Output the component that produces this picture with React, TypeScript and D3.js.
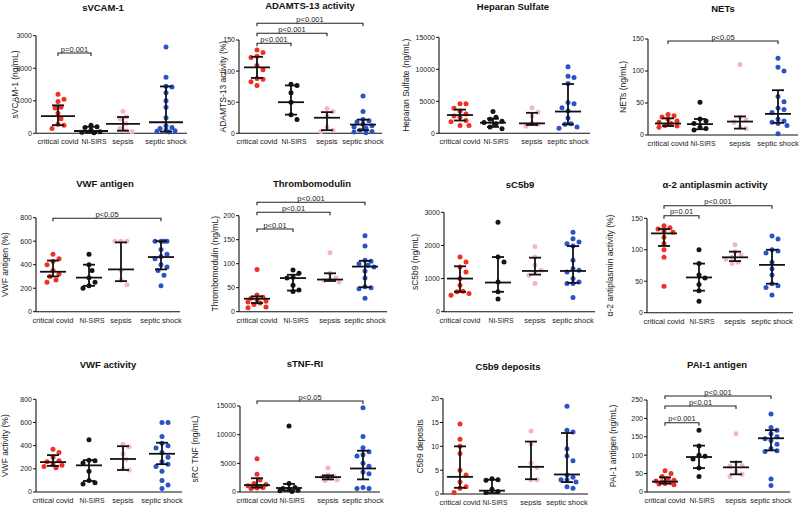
import React from "react";
import * as d3 from "d3";

const categories = ["critical covid", "NI-SIRS", "sepsis", "septic shock"];
const groupColors = ["#ee3124", "#151515", "#f4b4d0", "#2b52c6"];

// ---- values per group (critical covid, NI-SIRS, sepsis, septic shock)
// stats: [median, q1, q3]
const sVCAM1Values = [
  [1200, 1050, 980, 800, 780, 620, 450, 280, 250, 150],
  [250, 200, 180, 100, 50, 30, 20],
  [680, 500, 450, 300, 150, 80, 50],
  [2650, 1720, 1450, 1420, 1250, 1000, 800, 480, 230, 180, 150, 100, 80, 60, 40],
];
const sVCAM1Stats = [[530, 250, 860], [70, 20, 200], [290, 80, 500], [340, 50, 1440]];
const sVCAM1Ticks = [0, 1000, 2000, 3000];

const adamtsValues = [
  [134, 130, 124, 122, 109, 102, 88, 87, 83, 77],
  [79, 77, 65, 50, 30, 22],
  [40, 35, 28, 10, 5, 3],
  [60, 35, 22, 20, 18, 15, 12, 10, 8, 5, 3, 2, 1],
];
const adamtsStats = [[106, 89, 123], [50, 30, 77], [25, 5, 34], [14, 5, 22]];
const adamtsTicks = [0, 50, 100, 150];

const heparanValues = [
  [4600, 4600, 3900, 3500, 3000, 2700, 2500, 2000, 1800, 1200, 1200],
  [3400, 2500, 2200, 1900, 1700, 1500, 1000, 700],
  [4000, 3300, 2700, 1600, 1400, 1100],
  [10400, 8900, 8700, 7800, 4800, 4600, 4000, 3500, 2400, 1500, 1400, 1000, 800],
];
const heparanStats = [[2850, 2000, 3700], [1650, 1000, 2300], [1550, 1300, 3200], [3400, 1400, 7700]];
const heparanTicks = [0, 5000, 10000, 15000];

const netsValues = [
  [32, 30, 28, 25, 22, 20, 18, 15, 14, 12],
  [51, 25, 22, 18, 12, 10, 8],
  [110, 28, 24, 20, 12, 10],
  [120, 106, 100, 60, 52, 42, 40, 35, 25, 22, 20, 18, 15, 2],
];
const netsStats = [[18, 14, 26], [17, 9, 25], [21, 10, 29], [33, 19, 70]];
const netsTicks = [0, 50, 100, 150];

const vwfAgValues = [
  [490, 450, 430, 400, 350, 320, 300, 270, 250],
  [490, 400, 350, 290, 250, 220, 200],
  [600, 600, 600, 350, 270, 230],
  [600, 600, 600, 600, 530, 490, 470, 450, 400, 380, 350, 310, 220],
];
const vwfAgStats = [[340, 300, 435], [290, 220, 400], [360, 260, 590], [465, 360, 600]];
const vwfAgTicks = [0, 200, 400, 600, 800];

const tmValues = [
  [88, 35, 30, 28, 25, 22, 20, 18, 15, 10, 8],
  [87, 80, 72, 70, 55, 45, 42],
  [123, 80, 70, 67, 65, 62],
  [158, 137, 107, 105, 100, 97, 93, 85, 70, 52, 50, 48, 28],
];
const tmStats = [[27, 18, 32], [70, 44, 77], [67, 64, 80], [94, 51, 106]];
const tmTicks = [0, 50, 100, 150, 200];

const sc5b9Values = [
  [1650, 1500, 1350, 1200, 1000, 800, 620, 600, 550, 500],
  [2700, 1650, 1500, 900, 600, 380],
  [1970, 1650, 1400, 1250, 1200, 1100, 850],
  [2400, 2200, 2100, 2050, 1980, 1550, 1300, 1250, 1200, 1000, 900, 850, 850, 430],
];
const sc5b9Stats = [[1000, 600, 1370], [880, 600, 1650], [1230, 1120, 1630], [1230, 870, 1980]];
const sc5b9Ticks = [0, 1000, 2000, 3000];

const a2apValues = [
  [138, 135, 133, 130, 128, 120, 110, 100, 88, 42],
  [100, 78, 60, 55, 45, 35, 18],
  [108, 97, 92, 88, 85, 80, 78],
  [122, 117, 100, 98, 95, 80, 70, 60, 46, 43, 40, 28],
];
const a2apStats = [[126, 106, 133], [56, 35, 78], [88, 82, 97], [76, 46, 100]];
const a2apTicks = [0, 50, 100, 150];

const vwfActValues = [
  [370, 340, 300, 270, 260, 240, 230, 220, 210],
  [450, 275, 270, 250, 180, 100, 80, 70],
  [410, 390, 330, 280, 200, 190],
  [600, 600, 480, 420, 400, 380, 340, 300, 260, 240, 220, 180, 100, 60, 30],
];
const vwfActStats = [[258, 225, 318], [230, 95, 275], [285, 190, 395], [330, 240, 425]];
const vwfActTicks = [0, 200, 400, 600, 800];

const stnfValues = [
  [5800, 3100, 2100, 1500, 1300, 1100, 1000, 900, 800, 700, 600],
  [11500, 1500, 800, 600, 500, 300, 200, 100],
  [4200, 3000, 2800, 2600, 2400, 2100, 2000],
  [14700, 9700, 7700, 7000, 6500, 6300, 5000, 4500, 3500, 3200, 800, 600, 600],
];
const stnfStats = [[1200, 800, 2400], [700, 200, 1400], [2600, 2200, 2900], [4100, 2200, 7200]];
const stnfTicks = [0, 5000, 10000, 15000];

const c5b9DepValues = [
  [14.7, 11.5, 10, 8.5, 5, 4, 2.5, 1.5, 1.2, 0.3],
  [3.2, 3.0, 2.9, 1, 0.5, 0.3],
  [13.2, 10.5, 6.5, 5.5, 3, 3],
  [18.4, 13.4, 13, 9.5, 8, 7, 4, 3.5, 3, 3, 2.5, 1.5, 1.2],
];
const c5b9DepStats = [[3.6, 1.3, 10], [0.7, 0.2, 3], [5.7, 3.1, 11], [4.1, 2.5, 12.8]];
const c5b9DepTicks = [0, 5, 10, 15, 20];

const pai1Values = [
  [58, 50, 42, 35, 32, 30, 28, 25, 23, 22, 20],
  [168, 125, 100, 97, 90, 65, 42],
  [158, 80, 72, 70, 55, 48, 42],
  [212, 175, 168, 158, 150, 145, 140, 130, 118, 112, 110, 35, 18],
];
const pai1Stats = [[28, 23, 40], [95, 65, 126], [67, 48, 82], [146, 113, 168]];
const pai1Ticks = [0, 50, 100, 150, 200, 250];

type Bracket = { a: number; b: number; label: string; y: number };
type Layout = {
  x0: number; x1: number; top: number; bottom: number; gx: number[];
  titleX: number; titleY: number; ylabelX: number; medW: number;
};
type PanelDef = {
  title: string; ylabel: string; values: number[][]; stats: number[][]; ticks: number[];
  brackets: Bracket[]; layout: Layout;
};

const panels: PanelDef[] = [
  { title: "sVCAM-1", ylabel: "sVCAM-1 (ng/mL)", values: sVCAM1Values, stats: sVCAM1Stats, ticks: sVCAM1Ticks,
    brackets: [{ a: 0, b: 1, label: "p=0.001", y: 53 }],
    layout: { x0: 36, x1: 187, top: 35.7, bottom: 133.3, gx: [58, 91, 123, 166], titleX: 103, titleY: 11, ylabelX: 15, medW: 17 } },
  { title: "ADAMTS-13 activity", ylabel: "ADAMTS-13 activity (%)", values: adamtsValues, stats: adamtsStats, ticks: adamtsTicks,
    brackets: [{ a: 0, b: 1, label: "p<0.001", y: 43.3 }, { a: 0, b: 2, label: "p<0.001", y: 33.3 }, { a: 0, b: 3, label: "p<0.001", y: 23.3 }],
    layout: { x0: 239, x1: 382, top: 40, bottom: 133.3, gx: [257, 291, 327, 363], titleX: 310, titleY: 9, ylabelX: 223, medW: 13 } },
  { title: "Heparan Sulfate", ylabel: "Heparan Sulfate (ng/mL)", values: heparanValues, stats: heparanStats, ticks: heparanTicks,
    brackets: [],
    layout: { x0: 439, x1: 590, top: 37.3, bottom: 133.3, gx: [460, 493, 532, 568], titleX: 513, titleY: 10, ylabelX: 406, medW: 13 } },
  { title: "NETs", ylabel: "NETs (ng/mL)", values: netsValues, stats: netsStats, ticks: netsTicks,
    brackets: [{ a: 0, b: 3, label: "p<0.05", y: 41 }],
    layout: { x0: 648, x1: 798, top: 39, bottom: 135, gx: [668, 700, 740, 778], titleX: 723, titleY: 12, ylabelX: 623, medW: 13 } },

  { title: "VWF antigen", ylabel: "VWF antigen (%)", values: vwfAgValues, stats: vwfAgStats, ticks: vwfAgTicks,
    brackets: [{ a: 0, b: 3, label: "p<0.05", y: 218.3 }],
    layout: { x0: 36, x1: 180, top: 217.7, bottom: 311.7, gx: [53, 89, 121, 161], titleX: 105, titleY: 187, ylabelX: 5, medW: 13 } },
  { title: "Thrombomodulin", ylabel: "Thrombomodulin (ng/mL)", values: tmValues, stats: tmStats, ticks: tmTicks,
    brackets: [{ a: 0, b: 1, label: "p<0.01", y: 229 }, { a: 0, b: 2, label: "p<0.01", y: 212.3 }, { a: 0, b: 3, label: "p<0.001", y: 202.3 }],
    layout: { x0: 239, x1: 387, top: 215.7, bottom: 311.7, gx: [257, 293, 330, 365], titleX: 312, titleY: 187, ylabelX: 215, medW: 13 } },
  { title: "sC5b9", ylabel: "sC5b9 (ng/mL)", values: sc5b9Values, stats: sc5b9Stats, ticks: sc5b9Ticks,
    brackets: [],
    layout: { x0: 444, x1: 595, top: 212.3, bottom: 311.7, gx: [460, 498, 535, 573], titleX: 520, titleY: 188, ylabelX: 415, medW: 13 } },
  { title: "α-2 antiplasmin activity", ylabel: "α-2 antiplasmin activity (%)", values: a2apValues, stats: a2apStats, ticks: a2apTicks,
    brackets: [{ a: 0, b: 1, label: "p=0.01", y: 215.7 }, { a: 0, b: 3, label: "p<0.001", y: 205.7 }],
    layout: { x0: 647, x1: 793, top: 218.3, bottom: 312.7, gx: [664, 699, 735, 772], titleX: 715, titleY: 188, ylabelX: 610, medW: 13 } },

  { title: "VWF activity", ylabel: "VWF activity (%)", values: vwfActValues, stats: vwfActStats, ticks: vwfActTicks,
    brackets: [],
    layout: { x0: 36, x1: 182, top: 399.3, bottom: 492, gx: [53, 89, 123, 162], titleX: 108, titleY: 368, ylabelX: 5, medW: 13 } },
  { title: "sTNF-RI", ylabel: "sRC TNF (ng/mL)", values: stnfValues, stats: stnfStats, ticks: stnfTicks,
    brackets: [{ a: 0, b: 3, label: "p<0.05", y: 401 }],
    layout: { x0: 240, x1: 380, top: 406, bottom: 492, gx: [257, 289, 328, 363], titleX: 305, titleY: 367, ylabelX: 195, medW: 13 } },
  { title: "C5b9 deposits", ylabel: "C5b9 deposits", values: c5b9DepValues, stats: c5b9DepStats, ticks: c5b9DepTicks,
    brackets: [],
    layout: { x0: 443, x1: 588, top: 398.7, bottom: 494, gx: [460, 492, 531, 567], titleX: 508, titleY: 370, ylabelX: 420, medW: 13 } },
  { title: "PAI-1 antigen", ylabel: "PAI-1 antigen (ng/mL)", values: pai1Values, stats: pai1Stats, ticks: pai1Ticks,
    brackets: [{ a: 0, b: 1, label: "p<0.001", y: 422.7 }, { a: 0, b: 2, label: "p<0.01", y: 406 }, { a: 0, b: 3, label: "p<0.001", y: 396 }],
    layout: { x0: 647, x1: 790, top: 400, bottom: 492, gx: [665, 699, 736, 771], titleX: 717, titleY: 368, ylabelX: 613, medW: 13 } },
];

const FONT = "'Liberation Sans', Arial, Helvetica, sans-serif";
const R = 2.5;
const MAX_OFF = 10;
// small per-category label adjustments (NI-SIRS is set narrower in the original)
const labelDx = [0, 3, 0, 0];
const labelLen: (number | undefined)[] = [undefined, 25, undefined, undefined];

function swarm(vals: number[], y: (v: number) => number, cx: number) {
  const pts = vals.map((v) => ({ v, py: y(v), px: cx })).sort((a, b) => a.py - b.py);
  const placed: { px: number; py: number }[] = [];
  const step = R * 2 + 1;
  const s = step / 2;
  const cands: number[] = [0];
  for (let k = 1; k * s <= MAX_OFF; k++) { cands.push(k * s, -k * s); }
  for (const p of pts) {
    let best = cx;
    let bestD = -1;
    for (const off of cands) {
      const px = cx + off;
      const d = placed.length ? Math.min(...placed.map((q) => Math.hypot(q.px - px, q.py - p.py))) : Infinity;
      if (d >= step) { best = px; bestD = d; break; }
      if (d > bestD) { bestD = d; best = px; }
    }
    p.px = best;
    placed.push({ px: p.px, py: p.py });
  }
  return pts;
}

function Panel({ p }: { p: PanelDef }) {
  const L = p.layout;
  const ymax = p.ticks[p.ticks.length - 1];
  const y = d3.scaleLinear().domain([0, ymax]).range([L.bottom, L.top]);
  const x = d3.scaleOrdinal<string, number>().domain(categories).range(L.gx);
  const midY = (L.top + L.bottom) / 2;
  return (
    <g>
      <text x={L.titleX} y={L.titleY} textAnchor="middle" fontFamily={FONT} fontWeight="bold" fontSize={9.5} fill="#111">{p.title}</text>
      <text transform={`translate(${L.ylabelX},${midY}) rotate(-90)`} textAnchor="middle" dy="0.35em" fontFamily={FONT} fontSize={8.5} fill="#222">{p.ylabel}</text>
      {/* axes */}
      <line x1={L.x0} x2={L.x0} y1={L.top} y2={L.bottom} stroke="#111" strokeWidth={1.1} />
      <line x1={L.x0} x2={L.x1} y1={L.bottom} y2={L.bottom} stroke="#111" strokeWidth={1.1} />
      {p.ticks.map((t) => (
        <g key={t}>
          <line x1={L.x0 - 3} x2={L.x0} y1={y(t)} y2={y(t)} stroke="#111" strokeWidth={1} />
          <text x={L.x0 - 4} y={y(t)} dy="0.35em" textAnchor="end" fontFamily={FONT} fontSize={7} fill="#222">{t}</text>
        </g>
      ))}
      {categories.map((c, ci) => (
        <text key={c} x={x(c) + labelDx[ci]} y={L.bottom + 11} textAnchor="middle" fontFamily={FONT} fontSize={7.5} fill="#222"
          textLength={labelLen[ci]} lengthAdjust={labelLen[ci] ? "spacingAndGlyphs" : undefined}>{c}</text>
      ))}
      {/* dots */}
      {p.values.map((vals, gi) =>
        swarm(vals, (v) => y(v), x(categories[gi])).map((pt, i) => (
          <circle key={`${gi}-${i}`} cx={pt.px} cy={pt.py} r={R} fill={groupColors[gi]} />
        ))
      )}
      {/* median + IQR */}
      {p.stats.map(([med, q1, q3], gi) => {
        const cx = x(categories[gi]);
        return (
          <g key={gi} stroke="#111" strokeWidth={1.8}>
            <line x1={cx - L.medW} x2={cx + L.medW} y1={y(med)} y2={y(med)} />
            <line x1={cx} x2={cx} y1={y(q1)} y2={y(q3)} />
            <line x1={cx - 6} x2={cx + 6} y1={y(q1)} y2={y(q1)} />
            <line x1={cx - 6} x2={cx + 6} y1={y(q3)} y2={y(q3)} />
          </g>
        );
      })}
      {/* brackets */}
      {p.brackets.map((b, i) => {
        const xa = x(categories[b.a]);
        const xb = x(categories[b.b]);
        return (
          <g key={i}>
            <path d={`M${xa},${b.y + 3}V${b.y}H${xb}V${b.y + 3}`} fill="none" stroke="#222" strokeWidth={1.1} />
            <text x={(xa + xb) / 2} y={b.y - 1.5} textAnchor="middle" fontFamily={FONT} fontSize={7.5} fill="#222">{b.label}</text>
          </g>
        );
      })}
    </g>
  );
}

export default function App() {
  return (
    <svg width={800} height={506} style={{ position: "absolute", left: 0, top: 0, background: "#fff" }}>
      <rect width={800} height={506} fill="#fff" />
      {panels.map((p, i) => (
        <Panel key={i} p={p} />
      ))}
    </svg>
  );
}
